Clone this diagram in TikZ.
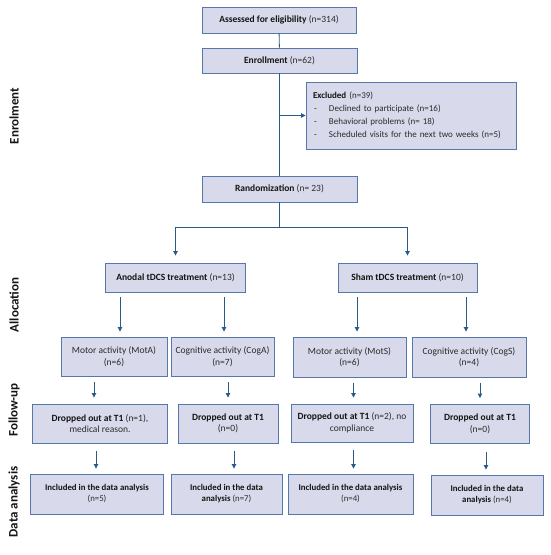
\documentclass[tikz,border=0pt]{standalone}
\usepackage{fontspec}
\setmainfont{Carlito}
\usetikzlibrary{arrows.meta}
\definecolor{boxfill}{HTML}{D8D9EA}
\definecolor{boxline}{HTML}{5677AC}
\definecolor{arrcol}{HTML}{2A5A88}
\definecolor{txtdark}{HTML}{141414}
\definecolor{txtgray}{HTML}{2C2C2C}
\newcommand{\nn}[1]{\textcolor{txtgray}{#1}}
\begin{document}
\begin{tikzpicture}[x=1pt,y=-1pt,
  box/.style={draw=boxline, fill=boxfill, line width=0.9pt, inner sep=1pt, align=center,
    font=\fontsize{9.5}{11.5}\selectfont, text=txtdark},
  small/.style={font=\fontsize{8.8}{11}\selectfont},
  conn/.style={draw=arrcol, line width=0.9pt},
  arr/.style={conn, -{Triangle[length=4.5pt,width=4.5pt]}},
  gap/.style={shorten <=#1, shorten >=#1},
  side/.style={rotate=90, font=\bfseries\fontsize{13}{15}\selectfont, text=txtdark}]
\useasboundingbox (0,0) rectangle (550,555);

% side labels
\node[side] (lenrol) at (14,116) {Enrolment};
\node[side] (lalloc) at (14,305) {Allocation};
\node[side] (lfollow) at (14,410) {Follow-up};
\node[side] (ldata) at (14,502) {Data analysis};

% top boxes
\node[box, minimum width=154pt, minimum height=26pt] (assess) at (279,20) {\textbf{Assessed for eligibility} \nn{(n=314)}};
\node[box, minimum width=155pt, minimum height=25pt] (enroll) at (279.5,60.5) {\textbf{Enrollment} \nn{(n=62)}};
\node[box, text width=196pt, inner xsep=7pt, minimum height=67pt, align=left,
  font=\fontsize{9}{13}\selectfont] (excl) at (411,115.5)
  {\textbf{Excluded} \nn{(n=39)}\\
   \nn{\makebox[16pt][l]{\hspace{1pt}-}Declined to participate (n=16)}\\
   \nn{\makebox[16pt][l]{\hspace{1pt}-}Behavioral problems (n= 18)}\\
   \mbox{\nn{\makebox[16pt][l]{\hspace{1pt}-}Scheduled visits for the next two weeks (n=5)}}};
\node[box, minimum width=155pt, minimum height=26pt] (rand) at (279.5,189) {\textbf{Randomization} \nn{(n= 23)}};

% allocation
\node[box, minimum width=140pt, minimum height=29pt] (anodal) at (175.5,277.5) {\textbf{Anodal tDCS treatment} \nn{(n=13)}};
\node[box, minimum width=139pt, minimum height=29pt] (sham) at (407.5,277.5) {\textbf{Sham tDCS treatment} \nn{(n=10)}};

% level 3
\node[box, minimum width=106pt, minimum height=39pt] (mota) at (114,356.5) {\nn{Motor activity (MotA)}\\\nn{(n=6)}};
\node[box, minimum width=103pt, minimum height=39pt] (coga) at (222.5,356.5) {\nn{Cognitive activity (CogA)}\\\nn{(n=7)}};
\node[box, minimum width=113pt, minimum height=40pt] (mots) at (349.5,357) {\nn{Motor activity (MotS)}\\\nn{(n=6)}};
\node[box, minimum width=114pt, minimum height=40pt] (cogs) at (469,357) {\nn{Cognitive activity (CogS)}\\\nn{(n=4)}};

% level 4
\node[box, minimum width=135pt, minimum height=39pt] (dmota) at (100,423.5) {\textbf{Dropped out at T1} \nn{(n=1),}\\\nn{medical reason.}};
\node[box, minimum width=100pt, minimum height=39pt] (dcoga) at (228,423.5) {\textbf{Dropped out at T1}\\\nn{(n=0)}};
\node[box, minimum width=122pt, minimum height=38pt] (dmots) at (352,423) {\textbf{Dropped out at T1} \nn{(n=2), no}\\\nn{compliance}};
\node[box, minimum width=99pt, minimum height=39pt] (dcogs) at (480,424) {\textbf{Dropped out at T1}\\\nn{(n=0)}};

% level 5
\node[box, small, minimum width=133pt, minimum height=40pt] (imota) at (97,494) {\textbf{Included in the data analysis}\\\nn{(n=5)}};
\node[box, small, minimum width=111pt, minimum height=40pt] (icoga) at (226.5,494) {\textbf{Included in the data}\\\textbf{analysis} \nn{(n=7)}};
\node[box, small, minimum width=125pt, minimum height=40pt] (imots) at (350.5,494) {\textbf{Included in the data analysis}\\\nn{(n=4)}};
\node[box, small, minimum width=112pt, minimum height=40pt] (icogs) at (487,495) {\textbf{Included in the data}\\\textbf{analysis} \nn{(n=4)}};

% connectors top
\draw[conn] (assess) -- (enroll);
\draw[conn] (enroll) -- (rand);
\draw[arr] (enroll.south |- excl.west) -- (excl.west);
\draw[arr] (rand.south) -- ++(0,25) -| ([yshift=7pt]anodal.north);
\draw[arr] (rand.south) -- ++(0,25) -| ([yshift=7pt]sham.north);

% level 2 -> 3
\draw[arr, gap=5pt] ([xshift=6pt]mota.north |- anodal.south) -- ([xshift=6pt]mota.north);
\draw[arr, gap=5pt] ([xshift=1.5pt]coga.north |- anodal.south) -- ([xshift=1.5pt]coga.north);
\draw[arr, gap=5pt] ([xshift=7.5pt]mots.north |- sham.south) -- ([xshift=7.5pt]mots.north);
\draw[arr, gap=5pt] ([xshift=-3pt]cogs.north |- sham.south) -- ([xshift=-3pt]cogs.north);

% level 3 -> 4
\draw[arr, gap=6pt] ([xshift=-6pt]dmota.north |- mota.south) -- ([xshift=-6pt]dmota.north);
\draw[arr, gap=6pt] (dcoga.north |- coga.south) -- (dcoga.north);
\draw[arr, gap=6pt] ([xshift=1.5pt]dmots.north |- mots.south) -- ([xshift=1.5pt]dmots.north);
\draw[arr, gap=6pt] (dcogs.north |- cogs.south) -- (dcogs.north);

% level 4 -> 5
\draw[arr, shorten <=8pt, shorten >=5pt] ([xshift=-1pt]imota.north |- dmota.south) -- ([xshift=-1pt]imota.north);
\draw[arr, shorten <=8pt, shorten >=5pt] ([xshift=7.5pt]icoga.north |- dcoga.south) -- ([xshift=7.5pt]icoga.north);
\draw[arr, shorten <=8pt, shorten >=5pt] ([xshift=3pt]imots.north |- dmots.south) -- ([xshift=3pt]imots.north);
\draw[arr, shorten <=8pt, shorten >=5pt] ([xshift=-1pt]icogs.north |- dcogs.south) -- ([xshift=-1pt]icogs.north);
\end{tikzpicture}
\end{document}
